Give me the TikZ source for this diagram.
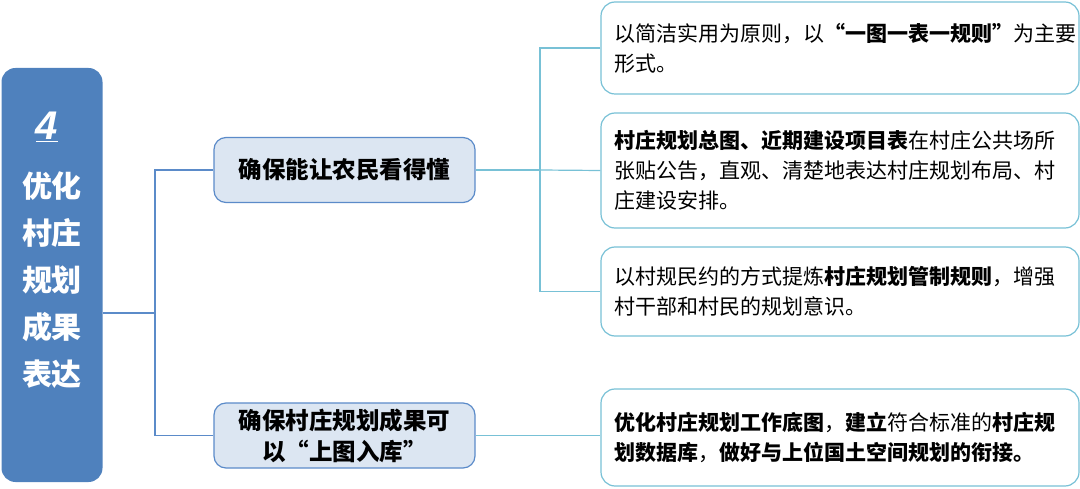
\documentclass[tikz,border=0pt]{standalone}
\usepackage{fontspec}
\setmainfont{Noto Sans CJK SC}
\newfontfamily\numfont{Liberation Sans}
\begin{document}
\begin{tikzpicture}[x=1pt,y=-1pt,
  leftbox/.style={draw=none,fill=mainblue,rounded corners=14pt,text=white},
  midbox/.style={draw=midborder,fill=midfill,rounded corners=12pt,line width=1.2pt,align=center,font=\fontsize{23.5}{31}\selectfont\bfseries},
  rbox/.style={draw=teal1,fill=white,rounded corners=14pt,line width=1.2pt,align=left,text width=452pt,font=\fontsize{21}{30}\selectfont,inner sep=0pt},
  bl/.style={draw=midborder,line width=1.2pt},
  tl/.style={draw=teal1,line width=1.2pt}]
\definecolor{mainblue}{HTML}{4F81BD}
\definecolor{midborder}{HTML}{5B8BC9}
\definecolor{midfill}{HTML}{DCE6F2}
\definecolor{teal1}{HTML}{78C1D6}
\useasboundingbox (0,0) rectangle (1080,489);
\node[leftbox,minimum width=101pt,minimum height=414pt] (L) at (52,275) {};
\node[text=white,font=\fontsize{40}{40}\selectfont\numfont\bfseries\itshape] (n4) at (47,127) {\underline{4}};
\node[text=white,font=\fontsize{30}{47}\selectfont\bfseries,align=center] (lt) at (52,280) {优化\\村庄\\规划\\成果\\表达};
\node[midbox,minimum width=261pt,minimum height=65pt] (m1) at (344.5,170) {确保能让农民看得懂};
\node[midbox,minimum width=261pt,minimum height=65pt] (m2) at (344.5,435.5) {确保村庄规划成果可\\以“上图入库”};
\node[rbox,minimum width=478pt,minimum height=92pt,inner xsep=13pt] (r1) at (840,48) {以简洁实用为原则，以\textbf{“一图一表一规则”}为主要\\形式。};
\node[rbox,minimum width=478pt,minimum height=115pt,inner xsep=13pt] (r2) at (840,170.5) {\textbf{村庄规划总图、近期建设项目表}在村庄公共场所\\张贴公告，直观、清楚地表达村庄规划布局、村\\庄建设安排。};
\node[rbox,minimum width=478pt,minimum height=89pt,inner xsep=13pt] (r3) at (840,291.5) {以村规民约的方式提炼\textbf{村庄规划管制规则}，增强\\村干部和村民的规划意识。};
\node[rbox,minimum width=478pt,minimum height=97pt,inner xsep=13pt] (r4) at (840,437.5) {\textbf{优化村庄规划工作底图}，\textbf{建立}符合标准的\textbf{村庄规}\\\textbf{划数据库}，\textbf{做好与上位国土空间规划的衔接。}};
\coordinate (j1) at (155,313);
\coordinate (j2) at (540,170);
\draw[bl] (L.east |- j1) -- (j1);
\draw[bl] (m1.west) -| (j1);
\draw[bl] (m2.west) -| (j1);
\draw[tl] (m1.east) -- (j2);
\draw[tl] (r1.west) -| (j2);
\draw[tl] (r2.west) -- (j2);
\draw[tl] (r3.west) -| (j2);
\draw[tl] (m2.east) -- (m2.east -| r4.west);
\end{tikzpicture}
\end{document}
